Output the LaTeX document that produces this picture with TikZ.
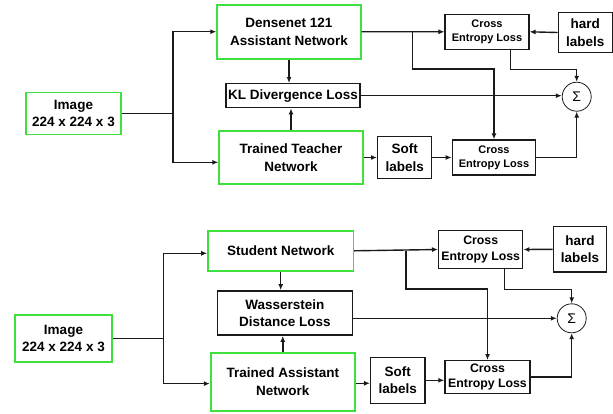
\documentclass[tikz,border=0pt]{standalone}
\usepackage{fontspec}
\setmainfont{Liberation Sans}
\usepackage{xcolor}
\definecolor{BoxGreen}{HTML}{3EE03E}
\definecolor{DarkGrey}{HTML}{1A1A1A}
\usetikzlibrary{calc,arrows.meta,positioning}
\newcommand\BigFont{\fontsize{13.5}{17.5}\selectfont\bfseries}
\newcommand\TopSmall{\fontsize{11}{14.3}\selectfont\bfseries}
\newcommand\LowSmall{\fontsize{12.3}{15.5}\selectfont\bfseries}
\tikzstyle{net}=[rectangle,draw=BoxGreen,line width=1.7pt,align=center,
                 inner sep=0pt,font=\BigFont]
\tikzstyle{loss}=[rectangle,draw=DarkGrey,line width=1.4pt,align=center,
                  inner sep=0pt,font=\BigFont]
\tikzstyle{sumnode}=[circle,draw=DarkGrey,line width=0.8pt,minimum size=29pt,
                     inner sep=0pt,font=\fontsize{14}{14}\selectfont]
\tikzstyle{conn}=[-{Latex[length=6pt,width=5pt]},line width=1.4pt,DarkGrey]
\tikzstyle{wire}=[line width=1.4pt,DarkGrey]

\begin{document}
\begin{tikzpicture}[x=1pt,y=-1pt]
      \useasboundingbox (0,0) rectangle (613,413);
      % upper panel: teacher -> assistant
      \node[net,minimum width=95,minimum height=42] (img1) at (73.5,113.5) {Image\\224 x 224 x 3};
      \node[net,minimum width=143.7,minimum height=54] (dense) at (289,31.7) {Densenet 121\\Assistant Network};
      \node[loss,minimum width=134,minimum height=24] (kl) at (293,95.7) {KL Divergence Loss};
      \node[net,minimum width=143.7,minimum height=53.6] (teacher) at (291,157.5) {Trained Teacher\\Network};
      \node[loss,font=\TopSmall,minimum width=83.7,minimum height=35] (ceA) at (487,31.8) {Cross\\Entropy Loss};
      \node[loss,minimum width=54,minimum height=40.4] (hardA) at (585.3,32.5) {hard\\labels};
      \node[sumnode] (sumA) at (576.7,96.7) {Σ};
      \node[loss,minimum width=54,minimum height=41.6] (softA) at (404.7,157.5) {Soft\\labels};
      \node[loss,font=\TopSmall,minimum width=83.4,minimum height=35] (ceB) at (494,157.5) {Cross\\Entropy Loss};
      \coordinate (splitA) at (173,113.5);
      \coordinate (tapA) at (412.7,31.7);
      \draw[wire] (img1.east) -- (splitA);
      \draw[conn] (splitA) |- (dense.west);
      \draw[conn] (splitA) |- ([yshift=-4.8]teacher.west);
      \draw[conn] (dense.south) -- (dense.south |- kl.north);
      \draw[conn] (teacher.north) -- (teacher.north |- kl.south);
      \draw[conn] (dense.east) -- (ceA.west);
      \draw[conn] (hardA.west) -- (ceA.east);
      \draw[conn] (tapA) -- ++(0,37.3) -| (ceB.north);
      \draw[conn] ([xshift=23.7]ceA.south) -- ++(0,19.7) -| (sumA.north);
      \draw[conn] (kl.east) -- (kl.east -| sumA.west);
      \draw[conn] (teacher.east) -- (softA.west);
      \draw[conn] (softA.east) -- (ceB.west);
      \draw[conn] (ceB.east) -| (sumA.south);
      % lower panel: assistant -> student
      \node[net,minimum width=96.4,minimum height=46.4] (img2) at (63.5,338.5) {Image\\224 x 224 x 3};
      \node[net,minimum width=145.3,minimum height=40.3] (student) at (280.7,250.8) {Student Network};
      \node[loss,minimum width=135,minimum height=44.3] (wass) at (284.8,313) {Wasserstein\\Distance Loss};
      \node[net,minimum width=144.3,minimum height=58.3] (assist) at (282.8,381.8) {Trained Assistant\\Network};
      \node[loss,font=\LowSmall,minimum width=84,minimum height=37.6] (ceC) at (480.7,249.5) {Cross\\Entropy Loss};
      \node[loss,minimum width=53.4,minimum height=45.3] (hardB) at (580,249.3) {hard\\labels};
      \node[sumnode] (sumB) at (571.7,318.3) {Σ};
      \node[loss,minimum width=54.3,minimum height=46] (softB) at (397.8,380.3) {Soft\\labels};
      \node[loss,font=\LowSmall,minimum width=85,minimum height=32.6] (ceD) at (487.5,377) {Cross\\Entropy Loss};
      \coordinate (splitB) at (163.3,338.5);
      \coordinate (tapB) at (406,250.8);
      \draw[wire] (img2.east) -- (splitB);
      \draw[conn] (splitB) |- ([yshift=-2.5]student.west);
      \draw[conn] (splitB) |- ([yshift=-1.8]assist.west);
      \draw[conn] (student.south) -- (student.south |- wass.north);
      \draw[conn] (assist.north) -- (assist.north |- wass.south);
      \draw[conn] (student.east) -- (ceC.west);
      \draw[conn] (hardB.west) -- (ceC.east);
      \draw[conn] (tapB) -- ++(0,38.2) -| (ceD.north);
      \draw[conn] ([xshift=23.6]ceC.south) -- ++(0,20.7) -| (sumB.north);
      \draw[conn] (wass.east |- sumB.west) -- (sumB.west);
      \draw[conn] ([yshift=-1.5]assist.east) -- ([yshift=-1.5]assist.east -| softB.west);
      \draw[conn] (softB.east) -- (softB.east -| ceD.west);
      \draw[conn] (ceD.east) -| (sumB.south);
   \end{tikzpicture}
\end{document}
